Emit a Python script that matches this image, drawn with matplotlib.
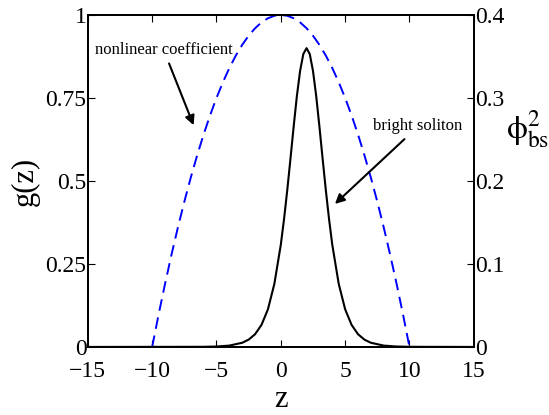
import numpy as np
import matplotlib
matplotlib.use("Agg")
from matplotlib import pyplot as plt

plt.rcParams['font.family'] = ['Liberation Serif', 'DejaVu Serif']
plt.rcParams['mathtext.fontset'] = 'stix'

# nonlinear coefficient g(z)
z_g = [-10, -9.5, -9, -8.5, -8, -7.5, -7, -6.5, -6, -5.5, -5, -4.5, -4, -3.5, -3,
       -2.5, -2, -1.5, -1, -0.5, 0, 0.5, 1, 1.5, 2, 2.5, 3, 3.5, 4, 4.5, 5,
       5.5, 6, 6.5, 7, 7.5, 8, 8.5, 9, 9.5, 10]
g_vals = [0, 0.0975, 0.19, 0.2775, 0.36, 0.4375, 0.51, 0.5775, 0.64, 0.6975, 0.75,
          0.7975, 0.84, 0.8775, 0.91, 0.9375, 0.96, 0.9775, 0.99, 0.9975, 1.0,
          0.9975, 0.99, 0.9775, 0.96, 0.9375, 0.91, 0.8775, 0.84, 0.7975, 0.75,
          0.6975, 0.64, 0.5775, 0.51, 0.4375, 0.36, 0.2775, 0.19, 0.0975, 0]

# bright soliton phi_bs^2 (right axis)
z_bs = [-15, -6, -5, -4, -3, -2.5, -2, -1.5, -1, -0.5, 0, 0.25, 0.5, 0.75, 1,
        1.25, 1.5, 1.75, 2, 2.25, 2.5, 2.75, 3, 3.25, 3.5, 3.75, 4, 4.5, 5,
        5.5, 6, 6.5, 7, 8, 9, 10, 15]
bs_vals = [0, 0.00017, 0.00053, 0.00163, 0.00503, 0.0088, 0.01535, 0.0266, 0.0454,
           0.0761, 0.1232, 0.1539, 0.1888, 0.2267, 0.2657, 0.3024, 0.3327, 0.3529,
           0.36, 0.3529, 0.3327, 0.3024, 0.2657, 0.2267, 0.1888, 0.1539, 0.1232,
           0.0761, 0.0454, 0.0266, 0.01535, 0.0088, 0.00503, 0.00163, 0.00053,
           0.00017, 0]

xticks = [-15, -10, -5, 0, 5, 10, 15]
yticks_left = [0, 0.25, 0.5, 0.75, 1]
ylabels_left = ['0', '0.25', '0.5', '0.75', '1']
yticks_right = [0, 0.1, 0.2, 0.3, 0.4]
ylabels_right = ['0', '0.1', '0.2', '0.3', '0.4']

fig = plt.figure(figsize=(5.49, 4.15), dpi=100)
ax = fig.add_axes([0.160, 0.164, 0.703, 0.800])
ax2 = ax.twinx()

ax.plot(z_g, g_vals, color='blue', linestyle=(0, (6, 3.5)), linewidth=1.4)
ax2.plot(z_bs, bs_vals, color='black', linewidth=1.5)

ax.set_xlim(-15, 15)
ax.set_ylim(0, 1)
ax2.set_ylim(0, 0.4)

ax.set_xticks(xticks)
ax.set_yticks(yticks_left)
ax.set_yticklabels(ylabels_left)
ax2.set_yticks(yticks_right)
ax2.set_yticklabels(ylabels_right)

ax.tick_params(axis='x', direction='in', top=True, labelsize=17, length=5, pad=10)
ax.tick_params(axis='y', direction='in', right=False, labelsize=17, length=5, pad=1)
ax2.tick_params(axis='y', direction='in', labelsize=17, length=5, pad=1)
for a in (ax, ax2):
    for s in a.spines.values():
        s.set_linewidth(1.3)

ax.set_xlabel('z', fontsize=22, labelpad=2)
ax.set_ylabel('g(z)', fontsize=22, labelpad=4)
ax2.set_ylabel(r'$\mathrm{\phi}^2_{\mathrm{bs}}$', fontsize=24, rotation=0,
               va='center', ha='center')
ax2.yaxis.set_label_coords(1.14, 0.655)

arrow = dict(arrowstyle='-|>', color='black', lw=1.5, mutation_scale=14)
ax.annotate('nonlinear coefficient', xy=(-6.7, 0.66), xytext=(-9.1, 0.87),
            fontsize=12, arrowprops=arrow, ha='center', va='bottom')
ax.annotate('bright soliton', xy=(4.05, 0.425), xytext=(7.2, 0.64),
            fontsize=12, arrowprops=arrow, ha='left', va='bottom')

fig.savefig('out.png', dpi=100)
